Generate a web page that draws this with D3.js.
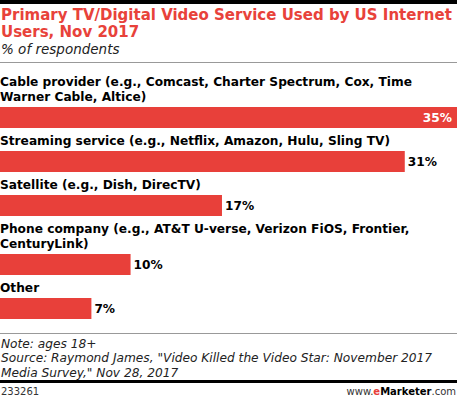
<!DOCTYPE html>
<meta charset="utf-8">
<style>
body { margin: 0; }
svg { font-family: "DejaVu Sans", sans-serif; display: block; }
.title { font-size: 15px; font-weight: bold; fill: #e8423a; }
.subtitle { font-size: 13.5px; font-style: italic; fill: #222; }
.label { font-size: 12.2px; font-weight: bold; fill: #000; }
.value { font-size: 12.2px; font-weight: bold; }
.note { font-size: 12.2px; font-style: italic; fill: #222; }
.footer { font-size: 10px; fill: #333; }
.bar { fill: #e8403a; }
</style>
<body>
<script src="https://cdnjs.cloudflare.com/ajax/libs/d3/7.8.5/d3.min.js"></script>
<script>

var width = 457,
    height = 398;

var labels = [
  ["Cable provider (e.g., Comcast, Charter Spectrum, Cox, Time", "Warner Cable, Altice)"],
  ["Streaming service (e.g., Netflix, Amazon, Hulu, Sling TV)"],
  ["Satellite (e.g., Dish, DirecTV)"],
  ["Phone company (e.g., AT&T U-verse, Verizon FiOS, Frontier,", "CenturyLink)"],
  ["Other"]
];
var values = [35, 31, 17, 10, 7];

var titleLines = ["Primary TV/Digital Video Service Used by US Internet", "Users, Nov 2017"];
var subtitle = "% of respondents";
var noteLines = [
  "Note: ages 18+",
  "Source: Raymond James, \"Video Killed the Video Star: November 2017",
  "Media Survey,\" Nov 28, 2017"
];
var chartId = "233261";

var lineH = 15,
    barH = 21,
    rowGap = 23;

var x = d3.scaleLinear()
    .domain([0, 35])
    .range([0, width]);

// stack rows: each row is its label lines then the bar
var rows = [], y0 = 107;
labels.forEach(function(l, i) {
  var top = i === 0 ? y0 : rows[i - 1].barTop + barH + rowGap + lineH * (l.length - 1);
  rows.push({ lines: l, value: values[i], barTop: top });
});

var svg = d3.select("body").append("svg")
    .attr("width", width)
    .attr("height", height);

svg.append("rect")
    .attr("width", width)
    .attr("height", 4)
    .attr("fill", "#000");

svg.selectAll(".title")
    .data(titleLines)
  .enter().append("text")
    .attr("class", "title")
    .attr("x", 1)
    .attr("y", function(d, i) { return 20 + i * 16.5; })
    .text(function(d) { return d; });

svg.append("text")
    .attr("class", "subtitle")
    .attr("x", 1)
    .attr("y", 54)
    .text(subtitle);

svg.append("line")
    .attr("x1", 0).attr("x2", width)
    .attr("y1", 62.5).attr("y2", 62.5)
    .attr("stroke", "#999");

var row = svg.selectAll(".row")
    .data(rows)
  .enter().append("g")
    .attr("class", "row");

row.selectAll(".label")
    .data(function(d) { return d.lines.map(function(t, j) { return { t: t, y: d.barTop - 6 - lineH * (d.lines.length - 1 - j) }; }); })
  .enter().append("text")
    .attr("class", "label")
    .attr("x", 0)
    .attr("y", function(d) { return d.y; })
    .text(function(d) { return d.t; });

row.append("rect")
    .attr("class", "bar")
    .attr("x", x(0))
    .attr("y", function(d) { return d.barTop; })
    .attr("width", function(d) { return x(d.value); })
    .attr("height", barH);

row.append("text")
    .attr("class", "value")
    .attr("x", function(d) { return d.value === 35 ? x(d.value) - 5 : x(d.value) + 3; })
    .attr("y", function(d) { return d.barTop + 15; })
    .attr("text-anchor", function(d) { return d.value === 35 ? "end" : "start"; })
    .attr("fill", function(d) { return d.value === 35 ? "#fff" : "#000"; })
    .text(function(d) { return d.value + "%"; });

svg.append("line")
    .attr("x1", 0).attr("x2", width)
    .attr("y1", 333.5).attr("y2", 333.5)
    .attr("stroke", "#999");

svg.selectAll(".note")
    .data(noteLines)
  .enter().append("text")
    .attr("class", "note")
    .attr("x", 1)
    .attr("y", function(d, i) { return 347.5 + i * 14.5; })
    .text(function(d) { return d; });

svg.append("rect")
    .attr("y", 380)
    .attr("width", width)
    .attr("height", 3)
    .attr("fill", "#000");

svg.append("text")
    .attr("class", "footer")
    .attr("x", 1)
    .attr("y", 395)
    .text(chartId);

var brand = svg.append("text")
    .attr("class", "footer")
    .attr("x", width - 1)
    .attr("y", 395)
    .attr("text-anchor", "end");
brand.append("tspan").text("www.");
brand.append("tspan").attr("fill", "#e8403a").attr("font-weight", "bold").text("e");
brand.append("tspan").attr("fill", "#000").attr("font-weight", "bold").text("Marketer");
brand.append("tspan").text(".com");

</script>
